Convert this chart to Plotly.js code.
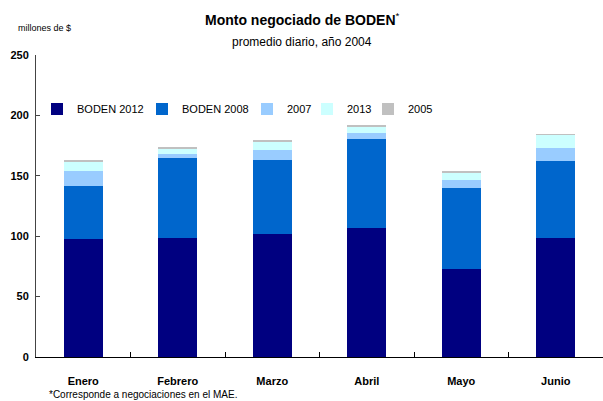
<!DOCTYPE html>
<html>
<head>
<meta charset="utf-8">
<script src="https://cdn.plot.ly/plotly-3.0.1.min.js"></script>
<style>html,body{margin:0;padding:0;background:#fff;}#chart{width:603px;height:401px;}</style>
</head>
<body>
<div id="chart"></div>
<script>
const months = ["Enero", "Febrero", "Marzo", "Abril", "Mayo", "Junio"];
const boden2012 = [98, 98.5, 101.8, 106.8, 72.8, 98.5];
const boden2008 = [43.6, 66.2, 61.3, 73.7, 67.1, 63.8];
const b2007 = [12.4, 3.3, 8.3, 4.9, 6.6, 10.7];
const b2013 = [7.4, 4.2, 6.6, 5.0, 5.8, 10.8];
const b2005 = [1.7, 1.4, 1.6, 1.6, 1.7, 0.8];
const seriesNames = ["BODEN 2012", "BODEN 2008", "2007", "2013", "2005"];
const seriesColors = ["#000080", "#0066CC", "#99CCFF", "#CCFFFF", "#C0C0C0"];
const seriesValues = [boden2012, boden2008, b2007, b2013, b2005];
const yTicks = [0, 50, 100, 150, 200, 250];

const font = "Liberation Sans, Arial, sans-serif";
const W = 603, H = 401, ML = 36, MR = 0, MT = 55, MB = 44;
const PW = W - ML - MR, PH = H - MT - MB;
const legendNames = ["legend", "legend2", "legend3", "legend4", "legend5"];
const legendPx = [37, 142, 247, 307, 368];

const traces = seriesValues.map((vals, i) => ({
  type: "bar",
  x: months,
  y: vals,
  name: seriesNames[i],
  legend: legendNames[i],
  marker: {color: seriesColors[i], line: {width: 0}},
  hoverinfo: "skip"
}));

const layout = {
  width: W,
  height: H,
  margin: {l: ML, r: MR, t: MT, b: MB},
  barmode: "stack",
  bargap: 0.59,
  paper_bgcolor: "#ffffff",
  plot_bgcolor: "#ffffff",
  font: {family: font, color: "#000000", size: 11},
  showlegend: true,
  xaxis: {
    type: "category",
    showline: true, linecolor: "#000", linewidth: 1,
    ticks: "inside", tickson: "boundaries", ticklen: 5, tickcolor: "#000",
    tickfont: {family: font, size: 11, color: "#000", weight: "bold"},
    ticklabelstandoff: 14,
    showgrid: false, zeroline: false,
    fixedrange: true
  },
  yaxis: {
    range: [0, 250],
    tickvals: yTicks,
    ticktext: yTicks.map(String),
    showline: true, linecolor: "#444", linewidth: 1,
    ticks: "inside", ticklen: 4, tickcolor: "#444",
    tickfont: {family: font, size: 11, color: "#000", weight: "bold"},
    showgrid: false, zeroline: false,
    ticklabelstandoff: 4,
    fixedrange: true
  },
  annotations: [
    {text: "<b>Monto negociado de BODEN</b><sup>*</sup>", xref: "paper", yref: "paper",
     x: 0.47, y: (H - MB - 19) / PH, showarrow: false, font: {family: font, size: 14}, yanchor: "middle"},
    {text: "millones de $", xref: "paper", yref: "paper", x: -0.035, xanchor: "left",
     y: (H - MB - 28) / PH, yanchor: "middle", showarrow: false, font: {family: font, size: 9}},
    {text: "promedio diario, año 2004", xref: "paper", yref: "paper", x: 0.47,
     y: (H - MB - 42) / PH, yanchor: "middle", showarrow: false, font: {family: font, size: 12}},
    {text: "*Corresponde a negociaciones en el MAE.", xref: "paper", yref: "paper",
     x: 0.019, xanchor: "left", y: (H - MB - 394) / PH, yanchor: "middle", showarrow: false,
     font: {family: font, size: 10}}
  ]
};
legendNames.forEach((ln, i) => {
  layout[ln] = {
    orientation: "h",
    x: (legendPx[i] - ML) / PW, xanchor: "left",
    y: (H - MB - 109) / PH, yanchor: "middle",
    font: {family: font, size: 11, color: "#000"},
    bgcolor: "rgba(0,0,0,0)",
    itemwidth: 30
  };
});

Plotly.newPlot("chart", traces, layout, {displayModeBar: false, staticPlot: true});
</script>
</body>
</html>
